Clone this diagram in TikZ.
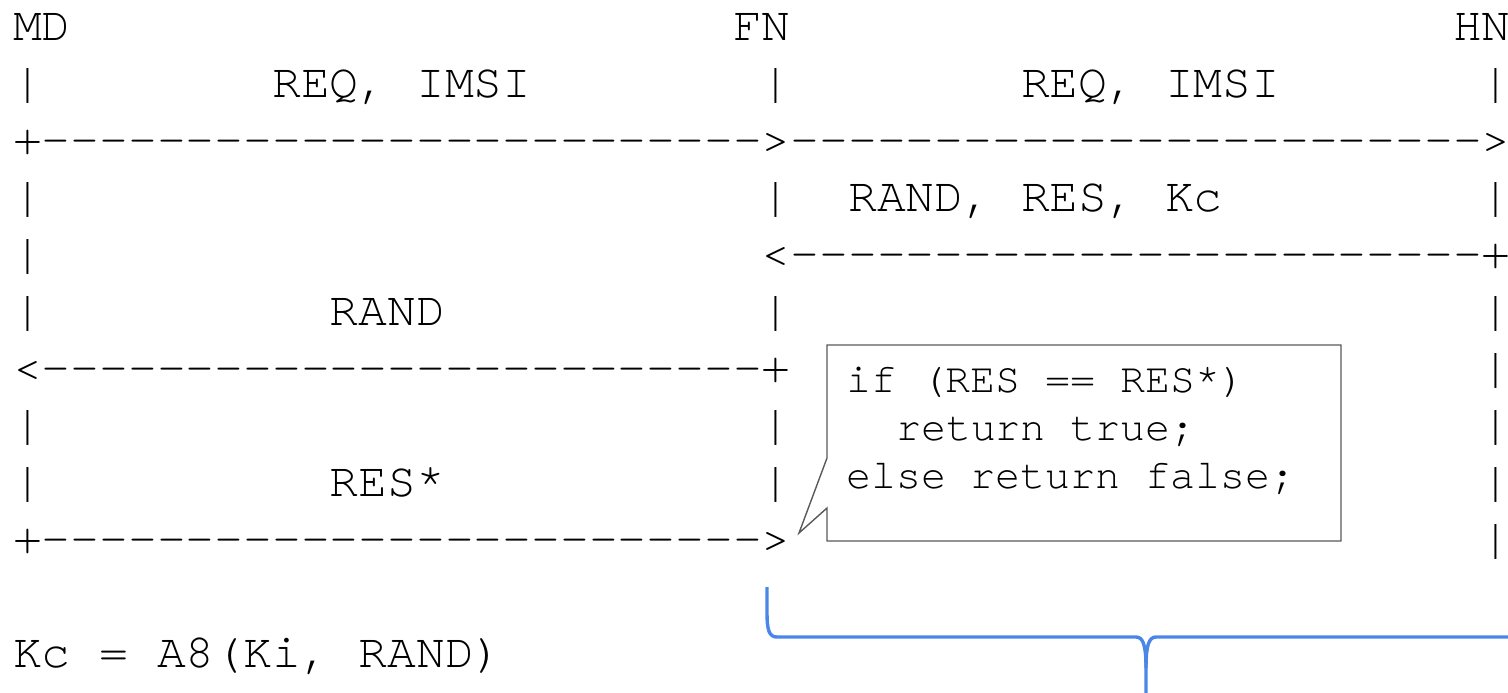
\documentclass[tikz,border=0pt]{standalone}
\usepackage{fontspec}
\newfontfamily\asciifont{texgyrecursor-regular.otf}[Ligatures=TeXOff]
\definecolor{bracecol}{RGB}{74,134,232}
\tikzset{
  row/.style={anchor=base west, inner sep=0pt, outer sep=0pt,
              font=\asciifont\fontsize{24}{28.5}\selectfont},
  code/.style={anchor=base west, inner sep=0pt, outer sep=0pt,
               font=\asciifont\fontsize{20.83}{24}\selectfont},
  callout/.style={draw=black!65, line width=0.7pt, line join=miter},
  brace/.style={draw=bracecol, line width=1.7pt, line join=round}
}
% column c of the character grid starts at 13 + 28.8 c, row r has its baseline at 40 + 57 r
\newcommand\cx[1]{13+28.8*#1}
\newcommand\ry[1]{40+57*#1}
\begin{document}
\begin{tikzpicture}[x=0.5pt,y=-0.5pt]
\useasboundingbox (0,0) rectangle (1508,692);
\clip (0,0) rectangle (1508,692);

% row 0: parties
\node[row] (md) at ({\cx{0}},{\ry{0}}) {MD};
\node[row] (fn) at ({\cx{25}},{\ry{0}}) {FN};
\node[row] (hn) at ({\cx{50}},{\ry{0}}) {HN};

% row 1
\node[row] (r1a) at ({\cx{0}},{\ry{1}}) {|};
\node[row] (r1b) at ({\cx{9}},{\ry{1}}) {REQ, IMSI};
\node[row] (r1c) at ({\cx{26}},{\ry{1}}) {|};
\node[row] (r1d) at ({\cx{35}},{\ry{1}}) {REQ, IMSI};
\node[row] (r1e) at ({\cx{51}},{\ry{1}}) {|};

% row 2
\node[row] (r2) at ({\cx{0}},{\ry{2}}) {+------------------------->------------------------>};

% row 3
\node[row] (r3a) at ({\cx{0}},{\ry{3}}) {|};
\node[row] (r3b) at ({\cx{26}},{\ry{3}}) {|};
\node[row] (r3c) at ({\cx{29}},{\ry{3}}) {RAND, RES, Kc};
\node[row] (r3d) at ({\cx{51}},{\ry{3}}) {|};

% row 4
\node[row] (r4a) at ({\cx{0}},{\ry{4}}) {|};
\node[row] (r4b) at ({\cx{26}},{\ry{4}}) {<------------------------+};

% row 5
\node[row] (r5a) at ({\cx{0}},{\ry{5}}) {|};
\node[row] (r5b) at ({\cx{11}},{\ry{5}}) {RAND};
\node[row] (r5c) at ({\cx{26}},{\ry{5}}) {|};
\node[row] (r5d) at ({\cx{51}},{\ry{5}}) {|};

% row 6
\node[row] (r6a) at ({\cx{0}},{\ry{6}}) {<-------------------------+};
\node[row] (r6b) at ({\cx{51}},{\ry{6}}) {|};

% row 7
\node[row] (r7a) at ({\cx{0}},{\ry{7}}) {|};
\node[row] (r7b) at ({\cx{26}},{\ry{7}}) {|};
\node[row] (r7c) at ({\cx{51}},{\ry{7}}) {|};

% row 8
\node[row] (r8a) at ({\cx{0}},{\ry{8}}) {|};
\node[row] (r8b) at ({\cx{11}},{\ry{8}}) {RES*};
\node[row] (r8c) at ({\cx{26}},{\ry{8}}) {|};
\node[row] (r8d) at ({\cx{51}},{\ry{8}}) {|};

% row 9
\node[row] (r9a) at ({\cx{0}},{\ry{9}}) {+------------------------->};
\node[row] (r9b) at ({\cx{51}},{\ry{9}}) {|};

% row 11: session key
\node[row] (kc) at ({\cx{0}},{\ry{11}}) {Kc = A8(Ki, RAND)};

% callout with the check made by FN
\draw[callout] (827,345) -- (1341,345) -- (1341,541) -- (827,541)
  -- (827,508) -- (799,533) -- (827,458) -- cycle;
\node[code] (c1) at (846,392) {if (RES == RES*)};
\node[code] (c2) at (896,440) {return true;};
\node[code] (c3) at (846,488) {else return false;};

% brace under the FN--HN span
\draw[brace] (767,587) -- (767,612)
  .. controls (767,630) and (769,637) .. (777,637) -- (1136,637)
  .. controls (1143,637) and (1146,645) .. (1146,668) -- (1146,700);
\draw[brace] (1146,668)
  .. controls (1146,645) and (1149,637) .. (1156,637) -- (1520,637);
\end{tikzpicture}
\end{document}
